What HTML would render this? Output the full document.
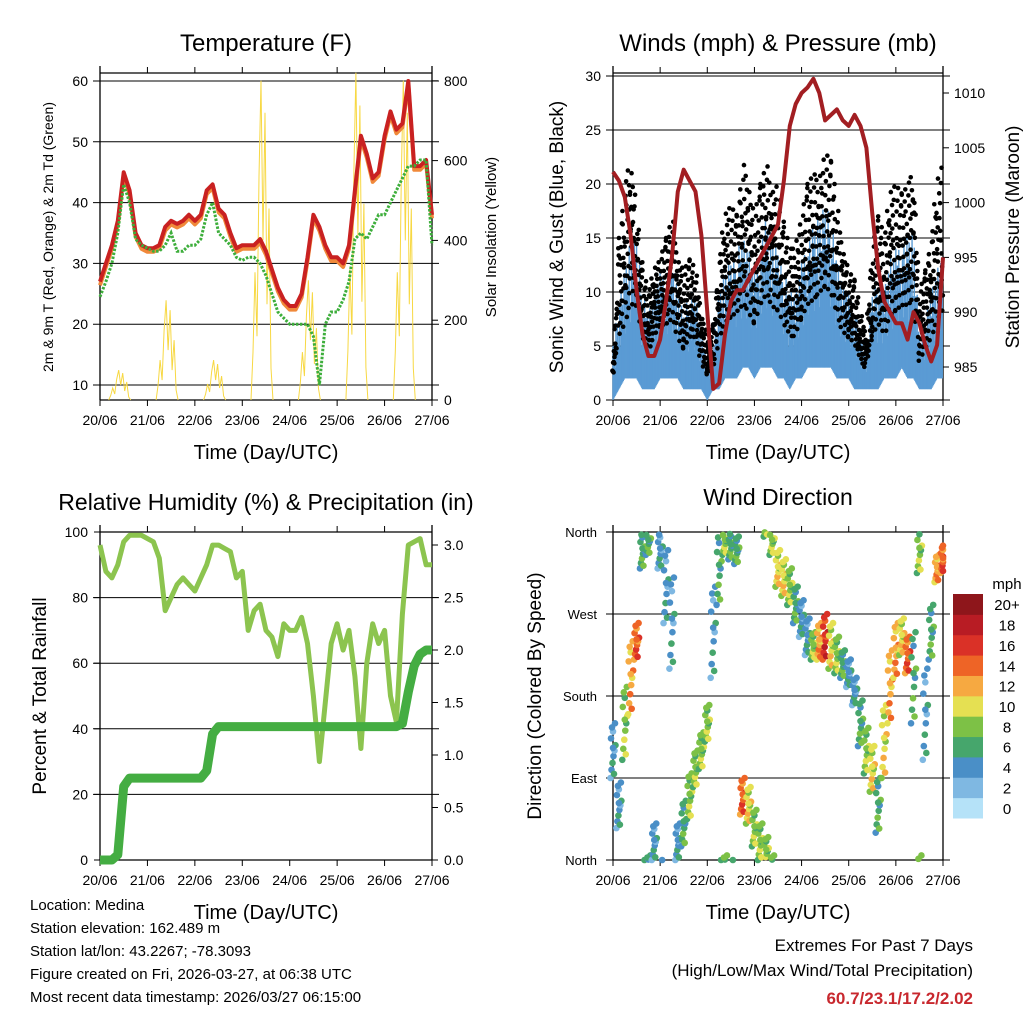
<!DOCTYPE html>
<html><head><meta charset="utf-8"><style>
body{margin:0;background:#fff}
svg text{font-family:"Liberation Sans",sans-serif;fill:#000}
</style></head><body>
<svg id="s" width="1024" height="1024" viewBox="0 0 1024 1024" xmlns="http://www.w3.org/2000/svg"></svg>
<script>
// ---- data (3-hourly samples, 20/06 00Z .. 27/06 00Z) ----
const dayLabels=["20/06","21/06","22/06","23/06","24/06","25/06","26/06","27/06"];
const tempRed=[27,30,33,37,45,42,35,33,32.5,32.5,33,36,37,36.5,37,38,37,38,42,43,39,38,35,32.5,33,33,33,34,32,29,26,24,23,23,25,31,38,36,33,31,31,30,33,42,51,48,44,45,51,55,52,53,60,46,46,47,38];
const dewGreen=[24.5,27,30,35,43,40,34,33,32.5,32,32,33,35,32,32,33,33,34,38,40,35,34,33,31,30.5,31,31,30,28,25,22,21,20,20,20,20,18,10,20,22,22,24,27,34,35,34,36,38,38,40,42,44,46,46,47,47,33];
const solarPeaks=[75,250,100,800,300,820,800];
const tempTicks=[10,20,30,40,50,60];
const solarTicks=[0,200,400,600,800];
const pressure=[1002.8,1002,1000.5,997,992,988,986,986,987.5,991,995,1001,1003,1002,1001,997,990,983,983.5,988,991,992,992,993,994,995,996,997,998,1002,1007,1009,1010,1010.5,1011.3,1010,1007.5,1008,1008.5,1007.5,1007,1008,1007,1005,999,994,991,990,989,989,987.5,990,989,987,985.5,987,995];
const windLow=[0,1,2,2,2,1,1,1,2,2,2,2,1,1,1,1,0,1,1,2,2,2,3,3,2,3,3,3,2,2,1,2,2,3,3,3,3,3,2,2,2,1,1,1,1,1,2,2,2,3,2,2,1,1,1,2,2];
const windHigh=[5,10,12,15,15,10,8,10,12,12,13,10,8,10,10,6,4,5,10,12,13,14,15,14,12,15,17,15,14,12,10,10,13,15,16,17,18,17,13,11,10,9,6,5,10,12,10,13,14,15,15,16,6,8,10,12,14];
const gust=[2,15,20,22,18,12,10,12,13,15,17,13,12,13,12,8,6,7,13,17,18,17,22,20,17,20,22,19,20,16,14,14,17,20,21,20,23,22,18,14,12,11,8,6,14,17,15,19,20,19,20,21,10,12,15,20,22];
const windTicks=[0,5,10,15,20,25,30];
const presTicks=[985,990,995,1000,1005,1010];
const rh=[96,88,86,90,97,99,99,99,98,97,92,76,80,84,86,84,82,86,90,96,96,95,94,86,88,70,76,78,70,68,62,72,70,70,74,66,50,30,48,66,72,64,70,56,34,60,72,66,70,50,42,75,96,97,98,90,90];
const rain=[0,0,0,0.05,0.7,0.78,0.78,0.78,0.78,0.78,0.78,0.78,0.78,0.78,0.78,0.78,0.78,0.78,0.85,1.2,1.27,1.27,1.27,1.27,1.27,1.27,1.27,1.27,1.27,1.27,1.27,1.27,1.27,1.27,1.27,1.27,1.27,1.27,1.27,1.27,1.27,1.27,1.27,1.27,1.27,1.27,1.27,1.27,1.27,1.27,1.27,1.3,1.6,1.85,1.96,2.0,2.0];
const rhTicks=[0,20,40,60,80,100];
const rainTicks=["0.0","0.5","1.0","1.5","2.0","2.5","3.0"];
const windDir=[120,60,150,200,240,340,350,20,340,300,260,20,40,70,100,120,150,250,320,350,345,340,70,60,35,20,10,350,320,310,300,280,265,245,235,240,245,235,225,215,205,185,150,120,100,60,130,190,230,245,225,200,340,160,250,320,330];
const windDirSpread=[30,25,40,40,20,20,15,20,20,40,50,20,25,25,20,20,20,50,40,15,15,15,20,20,20,20,15,15,20,20,20,20,20,20,15,20,25,25,20,15,15,15,25,25,25,30,40,40,30,20,20,50,25,50,30,15,15];
const windDirSpeed=[3,3,7,12,13,6,5,4,4,3,3,4,5,7,8,8,7,4,6,8,6,6,13,10,8,7,7,8,10,9,7,5,4,4,7,12,15,10,7,5,4,4,6,8,9,5,10,11,11,10,14,5,7,4,5,12,13];
const dirLabels=["North","East","South","West","North"];
const cbLabels=["0","2","4","6","8","10","12","14","16","18","20+"];
const cbColors=["#b5e2f8","#7fb8e2","#4a8fc7","#46a66c","#7dc146","#e5e052","#f6a941","#ee6426","#da3127","#b81c24","#8e161b"];

const NS="http://www.w3.org/2000/svg";const S=document.getElementById('s');
function mk(t,a,p){const e=document.createElementNS(NS,t);for(const k in a)e.setAttribute(k,a[k]);(p||S).appendChild(e);return e;}
function tx(x,y,s,size,anchor,extra){const e=mk('text',Object.assign({x:x,y:y,'font-size':size,'text-anchor':anchor||'middle'},extra||{}));e.textContent=s;return e;}
function pts(arr,fx,fy){return arr.map((v,i)=>fx(i).toFixed(1)+','+fy(v).toFixed(1)).join(' ');}

function frame(x0,x1,y0,y1,name){
  const g=mk('g',{});
  
  
  mk('line',{x1:x0,y1:y0-7,x2:x0,y2:y1,stroke:'#000','stroke-width':1.3},g);
  mk('line',{x1:x1,y1:y0-7,x2:x1,y2:y1,stroke:'#000','stroke-width':1.3},g);
  mk('line',{x1:x0,y1:y1,x2:x1,y2:y1,stroke:'#000','stroke-width':1.3},g);
  mk('line',{x1:x0,y1:y0,x2:x1,y2:y0,stroke:'#000','stroke-width':1.3},g);
  const dx=(x1-x0)/7;
  for(let d=0;d<=7;d++){
    const x=x0+d*dx;
    mk('line',{x1:x,y1:y1,x2:x,y2:y1+6,stroke:'#000'},g);
    mk('line',{x1:x,y1:y0,x2:x,y2:y0-6,stroke:'#000'},g);
    const t=tx(x,y1+25,dayLabels[d],14);
    
    
  }
  const xl=tx((x0+x1)/2,y1+59,'Time (Day/UTC)',20);
  
  
  return g;
}
function hgrid(x0,x1,y,g){mk('line',{x1:x0-7,y1:y,x2:x1+7,y2:y,stroke:'#000','stroke-width':1},g);}

// ===== Panel 1: Temperature =====
(function(){
  const x0=100,x1=432,y0=73,y1=400;
  const fx=i=>x0+i*(x1-x0)/56, fy=v=>385-(v-10)*6.08, fs=v=>400-v*0.399;
  const g=frame(x0,x1,y0,y1,'temperature');
  tempTicks.forEach(v=>{hgrid(x0,x1,fy(v),g);const t=tx(x0-12,fy(v)+5,String(v),14,'end');});
  solarTicks.forEach(v=>{mk('line',{x1:x1,y1:fs(v),x2:x1+6,y2:fs(v),stroke:'#000'},g);const t=tx(x1+12,fs(v)+5,String(v),14,'start');});
  const pat=[0,0.15,0.4,0.2,0.7,1,0.5,0.9,0.3,0.6,0.1,0];
  solarPeaks.forEach((p,d)=>{
    const c=x0+(d+0.5)*(x1-x0)/7-4;
    const ps=pat.map((m,j)=>(c-11+j*2).toFixed(1)+','+fs(p*m).toFixed(1)).join(' ');
    const l=mk('polyline',{points:ps,fill:'none',stroke:'#f7d843','stroke-width':1});
    
    
  });
  const o=mk('polyline',{points:pts(tempRed,i=>fx(i),v=>fy(v-0.6)),fill:'none',stroke:'#f0893a','stroke-width':4,'stroke-linejoin':'round'});
  
  
  const r=mk('polyline',{points:pts(tempRed,fx,fy),fill:'none',stroke:'#c92121','stroke-width':4,'stroke-linejoin':'round'});
  
  
  const gr=mk('polyline',{points:pts(dewGreen,fx,fy),fill:'none',stroke:'#3dae3b','stroke-width':3,'stroke-dasharray':'2.5 1.5'});
  
  
  const t=tx(266,51,'Temperature (F)',24);
  const a=tx(0,0,'2m & 9m T (Red, Orange) & 2m Td (Green)',14,'middle',{transform:'translate(53,237) rotate(-90)'});
  const b=tx(0,0,'Solar Insolation (Yellow)',15,'middle',{transform:'translate(496,237) rotate(-90)'});
})();

// ===== Panel 2: Winds =====
(function(){
  const x0=613,x1=943,y0=73,y1=400;
  const fx=i=>x0+i*(x1-x0)/56, fy=v=>400-v*10.8, fp=v=>367-(v-985)*10.96;
  const g=frame(x0,x1,y0,y1,'winds');
  windTicks.forEach(v=>{hgrid(x0,x1,fy(v),g);const t=tx(x0-12,fy(v)+5,String(v),14,'end');});
  presTicks.forEach(v=>{mk('line',{x1:x1,y1:fp(v),x2:x1+6,y2:fp(v),stroke:'#000'},g);const t=tx(x1+11,fp(v)+5,String(v),14,'start');});
  const sub=8;const fr=[0.05,0.55,0.3,0.9,0.15,0.7,0.45,1,0.25,0.8,0.6,0.35];
  const lf=[1,0.55,0.85,0.4,0.95,0.65,0.75,0.5];
  const gb=mk('g',{});
  const gk=mk('g',{});
  for(let i=0;i<56;i++)for(let k=0;k<sub;k++){
    const t=k/sub, x=fx(i+t);
    const lo=windLow[i]+(windLow[i+1]-windLow[i])*t, hi=windHigh[i]+(windHigh[i+1]-windHigh[i])*t, gu=gust[i]+(gust[i+1]-gust[i])*t;
    const h2=lo+(hi-lo)*lf[(i+k)%8];
    mk('line',{x1:x,y1:fy(lo),x2:x,y2:fy(h2),stroke:'#5a9bd4','stroke-width':1.4},gb);
    for(let j=0;j<3;j++){const f=fr[(i*3+k*5+j*4)%12];mk('circle',{cx:x+(j-1)*0.6,cy:fy(hi*0.55+(gu-hi*0.55)*f),r:2.3,fill:'#000'},gk);}
  }
  const p=mk('polyline',{points:pts(pressure,fx,fp),fill:'none',stroke:'#a21e22','stroke-width':4,'stroke-linejoin':'round'});
  
  const t=tx(778,51,'Winds (mph) & Pressure (mb)',24);
  const a=tx(0,0,'Sonic Wind & Gust (Blue, Black)',19,'middle',{transform:'translate(563,237) rotate(-90)'});
  const b=tx(0,0,'Station Pressure (Maroon)',19,'middle',{transform:'translate(1019,237) rotate(-90)'});
})();

// ===== Panel 3: RH & Precip =====
(function(){
  const x0=100,x1=432,y0=532,y1=860;
  const fx=i=>x0+i*(x1-x0)/56, fy=v=>860-v*3.28, fr=v=>860-v*105;
  const g=frame(x0,x1,y0,y1,'humidity');
  rhTicks.forEach(v=>{if(v>0&&v<100)hgrid(x0,x1,fy(v),g);mk('line',{x1:x0-6,y1:fy(v),x2:x0,y2:fy(v),stroke:'#000'},g);const t=tx(x0-12,fy(v)+5,String(v),14,'end');});
  rainTicks.forEach(s=>{const v=parseFloat(s);mk('line',{x1:x1,y1:fr(v),x2:x1+6,y2:fr(v),stroke:'#000'},g);const t=tx(x1+12,fr(v)+5,s,14,'start');});
  const h=mk('polyline',{points:pts(rh,fx,fy),fill:'none',stroke:'#8cc44f','stroke-width':5,'stroke-linejoin':'round'});
  
  const r=mk('polyline',{points:pts(rain,fx,fr),fill:'none',stroke:'#44ad42','stroke-width':9,'stroke-linejoin':'round'});
  
  const t=tx(266,510,'Relative Humidity (%) & Precipitation (in)',23);
  const a=tx(0,0,'Percent & Total Rainfall',19,'middle',{transform:'translate(46,696) rotate(-90)'});
})();

// ===== Panel 4: Wind direction =====
(function(){
  const x0=613,x1=943,y0=532,y1=860;
  const fx=i=>x0+i*(x1-x0)/56, fy=v=>860-v/360*328;
  const g=frame(x0,x1,y0,y1,'wind-direction');
  dirLabels.forEach((s,k)=>{const y=fy(k*90);hgrid(x0,x1,y,g);const t=tx(x0-16,y+5,s,13,'end');});
  const col=v=>cbColors[Math.max(0,Math.min(10,Math.round(v/2)))];
  const jit=[[-2.5,-1,-1],[-1.5,-0.7,0],[-0.5,-0.45,1],[0.5,-0.2,0],[1.5,0,-1],[2.5,0.2,1],[-2,0.45,0],[0,0.7,-1],[2,1,0],[1,-0.85,1],[-1,0.85,0],[0,0.1,0]];
  const gp=mk('g',{});
  for(let i=0;i<windDir.length;i++){
    jit.forEach(j=>{
      const d=((windDir[i]+j[1]*windDirSpread[i])%360+360)%360;
      mk('circle',{cx:Math.min(x1,fx(i)+j[0]),cy:fy(d),r:3.3,fill:col(windDirSpeed[i]+j[2]*2)},gp);
    });
  }
  const t=tx(778,505,'Wind Direction',23);
  const a=tx(0,0,'Direction (Colored By Speed)',19,'middle',{transform:'translate(541,696) rotate(-90)'});
  const cb=mk('g',{});
  const h=224/11;
  cbColors.forEach((c,k)=>{const y=818-(k+1)*h;mk('rect',{x:953,y:y,width:30,height:h+0.5,fill:c},cb);const l=tx(1007,y+h/2+6,cbLabels[k],15,'middle');});
  const m=tx(1007,589,'mph',15);
})();

// ===== Footer =====
["Location: Medina","Station elevation: 162.489 m","Station lat/lon: 43.2267; -78.3093","Figure created on Fri, 2026-03-27, at 06:38 UTC","Most recent data timestamp: 2026/03/27 06:15:00"].forEach((s,k)=>{const t=tx(30,910+k*23,s,15,'start');});
const e1=tx(973,951,'Extremes For Past 7 Days',17,'end');
const e2=tx(973,976,'(High/Low/Max Wind/Total Precipitation)',17,'end');
const e3=tx(973,1004,'60.7/23.1/17.2/2.02',17,'end',{'font-weight':'bold',style:'fill:#c8282e'});
</script>
</body></html>
